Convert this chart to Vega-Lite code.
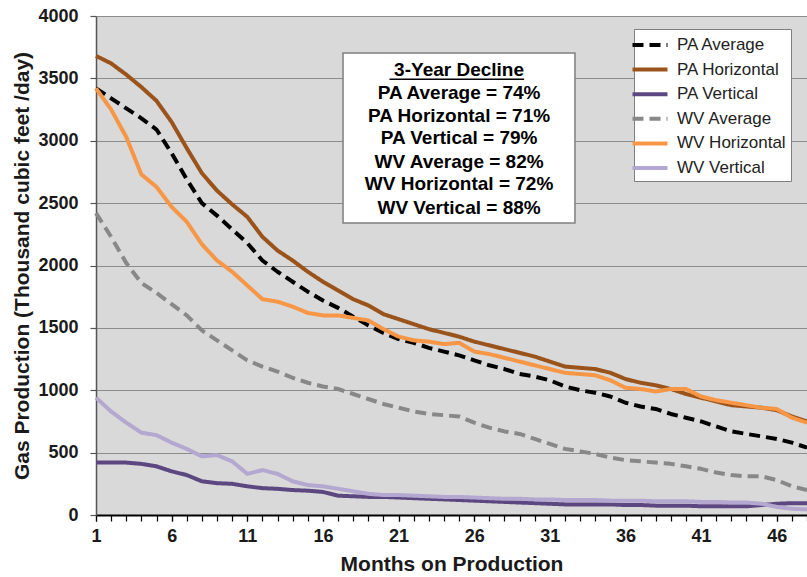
{
  "$schema": "https://vega.github.io/schema/vega-lite/v6.json",
  "width": 711,
  "height": 499,
  "autosize": {"type": "none"},
  "padding": {"left": 96, "top": 16, "right": 0, "bottom": 62},
  "background": "white",
  "config": {
    "font": "Liberation Sans",
    "view": {"fill": "#d9d9d9", "stroke": null}
  },
  "resolve": {"axis": {"x": "independent"}},
  "datasets": {
    "series": [
      {"m":1,"s":"PA Average","v":3420},{"m":2,"s":"PA Average","v":3340},{"m":3,"s":"PA Average","v":3260},{"m":4,"s":"PA Average","v":3180},{"m":5,"s":"PA Average","v":3090},{"m":6,"s":"PA Average","v":2900},{"m":7,"s":"PA Average","v":2690},{"m":8,"s":"PA Average","v":2500},{"m":9,"s":"PA Average","v":2400},{"m":10,"s":"PA Average","v":2290},{"m":11,"s":"PA Average","v":2180},{"m":12,"s":"PA Average","v":2040},{"m":13,"s":"PA Average","v":1950},{"m":14,"s":"PA Average","v":1870},{"m":15,"s":"PA Average","v":1790},{"m":16,"s":"PA Average","v":1720},{"m":17,"s":"PA Average","v":1660},{"m":18,"s":"PA Average","v":1590},{"m":19,"s":"PA Average","v":1520},{"m":20,"s":"PA Average","v":1460},{"m":21,"s":"PA Average","v":1410},{"m":22,"s":"PA Average","v":1380},{"m":23,"s":"PA Average","v":1340},{"m":24,"s":"PA Average","v":1310},{"m":25,"s":"PA Average","v":1280},{"m":26,"s":"PA Average","v":1240},{"m":27,"s":"PA Average","v":1200},{"m":28,"s":"PA Average","v":1170},{"m":29,"s":"PA Average","v":1130},{"m":30,"s":"PA Average","v":1110},{"m":31,"s":"PA Average","v":1080},{"m":32,"s":"PA Average","v":1030},{"m":33,"s":"PA Average","v":1000},{"m":34,"s":"PA Average","v":980},{"m":35,"s":"PA Average","v":950},{"m":36,"s":"PA Average","v":900},{"m":37,"s":"PA Average","v":870},{"m":38,"s":"PA Average","v":850},{"m":39,"s":"PA Average","v":810},{"m":40,"s":"PA Average","v":780},{"m":41,"s":"PA Average","v":750},{"m":42,"s":"PA Average","v":710},{"m":43,"s":"PA Average","v":670},{"m":44,"s":"PA Average","v":650},{"m":45,"s":"PA Average","v":630},{"m":46,"s":"PA Average","v":610},{"m":47,"s":"PA Average","v":580},{"m":48,"s":"PA Average","v":540},
      {"m":1,"s":"PA Horizontal","v":3680},{"m":2,"s":"PA Horizontal","v":3620},{"m":3,"s":"PA Horizontal","v":3530},{"m":4,"s":"PA Horizontal","v":3430},{"m":5,"s":"PA Horizontal","v":3320},{"m":6,"s":"PA Horizontal","v":3150},{"m":7,"s":"PA Horizontal","v":2940},{"m":8,"s":"PA Horizontal","v":2740},{"m":9,"s":"PA Horizontal","v":2600},{"m":10,"s":"PA Horizontal","v":2490},{"m":11,"s":"PA Horizontal","v":2390},{"m":12,"s":"PA Horizontal","v":2230},{"m":13,"s":"PA Horizontal","v":2120},{"m":14,"s":"PA Horizontal","v":2040},{"m":15,"s":"PA Horizontal","v":1950},{"m":16,"s":"PA Horizontal","v":1870},{"m":17,"s":"PA Horizontal","v":1800},{"m":18,"s":"PA Horizontal","v":1730},{"m":19,"s":"PA Horizontal","v":1680},{"m":20,"s":"PA Horizontal","v":1610},{"m":21,"s":"PA Horizontal","v":1570},{"m":22,"s":"PA Horizontal","v":1530},{"m":23,"s":"PA Horizontal","v":1490},{"m":24,"s":"PA Horizontal","v":1460},{"m":25,"s":"PA Horizontal","v":1430},{"m":26,"s":"PA Horizontal","v":1390},{"m":27,"s":"PA Horizontal","v":1360},{"m":28,"s":"PA Horizontal","v":1330},{"m":29,"s":"PA Horizontal","v":1300},{"m":30,"s":"PA Horizontal","v":1270},{"m":31,"s":"PA Horizontal","v":1230},{"m":32,"s":"PA Horizontal","v":1190},{"m":33,"s":"PA Horizontal","v":1180},{"m":34,"s":"PA Horizontal","v":1170},{"m":35,"s":"PA Horizontal","v":1140},{"m":36,"s":"PA Horizontal","v":1090},{"m":37,"s":"PA Horizontal","v":1060},{"m":38,"s":"PA Horizontal","v":1040},{"m":39,"s":"PA Horizontal","v":1010},{"m":40,"s":"PA Horizontal","v":970},{"m":41,"s":"PA Horizontal","v":940},{"m":42,"s":"PA Horizontal","v":910},{"m":43,"s":"PA Horizontal","v":880},{"m":44,"s":"PA Horizontal","v":870},{"m":45,"s":"PA Horizontal","v":860},{"m":46,"s":"PA Horizontal","v":840},{"m":47,"s":"PA Horizontal","v":790},{"m":48,"s":"PA Horizontal","v":750},
      {"m":1,"s":"PA Vertical","v":420},{"m":2,"s":"PA Vertical","v":420},{"m":3,"s":"PA Vertical","v":420},{"m":4,"s":"PA Vertical","v":410},{"m":5,"s":"PA Vertical","v":390},{"m":6,"s":"PA Vertical","v":350},{"m":7,"s":"PA Vertical","v":320},{"m":8,"s":"PA Vertical","v":270},{"m":9,"s":"PA Vertical","v":255},{"m":10,"s":"PA Vertical","v":250},{"m":11,"s":"PA Vertical","v":230},{"m":12,"s":"PA Vertical","v":215},{"m":13,"s":"PA Vertical","v":210},{"m":14,"s":"PA Vertical","v":200},{"m":15,"s":"PA Vertical","v":195},{"m":16,"s":"PA Vertical","v":185},{"m":17,"s":"PA Vertical","v":155},{"m":18,"s":"PA Vertical","v":150},{"m":19,"s":"PA Vertical","v":145},{"m":20,"s":"PA Vertical","v":145},{"m":21,"s":"PA Vertical","v":140},{"m":22,"s":"PA Vertical","v":135},{"m":23,"s":"PA Vertical","v":130},{"m":24,"s":"PA Vertical","v":125},{"m":25,"s":"PA Vertical","v":120},{"m":26,"s":"PA Vertical","v":115},{"m":27,"s":"PA Vertical","v":110},{"m":28,"s":"PA Vertical","v":105},{"m":29,"s":"PA Vertical","v":100},{"m":30,"s":"PA Vertical","v":95},{"m":31,"s":"PA Vertical","v":90},{"m":32,"s":"PA Vertical","v":85},{"m":33,"s":"PA Vertical","v":85},{"m":34,"s":"PA Vertical","v":85},{"m":35,"s":"PA Vertical","v":85},{"m":36,"s":"PA Vertical","v":80},{"m":37,"s":"PA Vertical","v":80},{"m":38,"s":"PA Vertical","v":75},{"m":39,"s":"PA Vertical","v":75},{"m":40,"s":"PA Vertical","v":75},{"m":41,"s":"PA Vertical","v":70},{"m":42,"s":"PA Vertical","v":70},{"m":43,"s":"PA Vertical","v":70},{"m":44,"s":"PA Vertical","v":70},{"m":45,"s":"PA Vertical","v":80},{"m":46,"s":"PA Vertical","v":90},{"m":47,"s":"PA Vertical","v":95},{"m":48,"s":"PA Vertical","v":95},
      {"m":1,"s":"WV Average","v":2420},{"m":2,"s":"WV Average","v":2230},{"m":3,"s":"WV Average","v":2020},{"m":4,"s":"WV Average","v":1860},{"m":5,"s":"WV Average","v":1780},{"m":6,"s":"WV Average","v":1690},{"m":7,"s":"WV Average","v":1600},{"m":8,"s":"WV Average","v":1480},{"m":9,"s":"WV Average","v":1400},{"m":10,"s":"WV Average","v":1320},{"m":11,"s":"WV Average","v":1240},{"m":12,"s":"WV Average","v":1190},{"m":13,"s":"WV Average","v":1150},{"m":14,"s":"WV Average","v":1100},{"m":15,"s":"WV Average","v":1060},{"m":16,"s":"WV Average","v":1030},{"m":17,"s":"WV Average","v":1010},{"m":18,"s":"WV Average","v":970},{"m":19,"s":"WV Average","v":930},{"m":20,"s":"WV Average","v":890},{"m":21,"s":"WV Average","v":860},{"m":22,"s":"WV Average","v":830},{"m":23,"s":"WV Average","v":810},{"m":24,"s":"WV Average","v":800},{"m":25,"s":"WV Average","v":790},{"m":26,"s":"WV Average","v":740},{"m":27,"s":"WV Average","v":700},{"m":28,"s":"WV Average","v":670},{"m":29,"s":"WV Average","v":650},{"m":30,"s":"WV Average","v":610},{"m":31,"s":"WV Average","v":570},{"m":32,"s":"WV Average","v":530},{"m":33,"s":"WV Average","v":510},{"m":34,"s":"WV Average","v":490},{"m":35,"s":"WV Average","v":460},{"m":36,"s":"WV Average","v":440},{"m":37,"s":"WV Average","v":430},{"m":38,"s":"WV Average","v":420},{"m":39,"s":"WV Average","v":410},{"m":40,"s":"WV Average","v":390},{"m":41,"s":"WV Average","v":370},{"m":42,"s":"WV Average","v":340},{"m":43,"s":"WV Average","v":320},{"m":44,"s":"WV Average","v":310},{"m":45,"s":"WV Average","v":310},{"m":46,"s":"WV Average","v":280},{"m":47,"s":"WV Average","v":230},{"m":48,"s":"WV Average","v":200},
      {"m":1,"s":"WV Horizontal","v":3420},{"m":2,"s":"WV Horizontal","v":3250},{"m":3,"s":"WV Horizontal","v":3030},{"m":4,"s":"WV Horizontal","v":2730},{"m":5,"s":"WV Horizontal","v":2630},{"m":6,"s":"WV Horizontal","v":2470},{"m":7,"s":"WV Horizontal","v":2350},{"m":8,"s":"WV Horizontal","v":2170},{"m":9,"s":"WV Horizontal","v":2040},{"m":10,"s":"WV Horizontal","v":1950},{"m":11,"s":"WV Horizontal","v":1840},{"m":12,"s":"WV Horizontal","v":1730},{"m":13,"s":"WV Horizontal","v":1710},{"m":14,"s":"WV Horizontal","v":1670},{"m":15,"s":"WV Horizontal","v":1620},{"m":16,"s":"WV Horizontal","v":1600},{"m":17,"s":"WV Horizontal","v":1600},{"m":18,"s":"WV Horizontal","v":1580},{"m":19,"s":"WV Horizontal","v":1560},{"m":20,"s":"WV Horizontal","v":1490},{"m":21,"s":"WV Horizontal","v":1430},{"m":22,"s":"WV Horizontal","v":1400},{"m":23,"s":"WV Horizontal","v":1390},{"m":24,"s":"WV Horizontal","v":1370},{"m":25,"s":"WV Horizontal","v":1380},{"m":26,"s":"WV Horizontal","v":1310},{"m":27,"s":"WV Horizontal","v":1290},{"m":28,"s":"WV Horizontal","v":1260},{"m":29,"s":"WV Horizontal","v":1230},{"m":30,"s":"WV Horizontal","v":1200},{"m":31,"s":"WV Horizontal","v":1170},{"m":32,"s":"WV Horizontal","v":1140},{"m":33,"s":"WV Horizontal","v":1130},{"m":34,"s":"WV Horizontal","v":1120},{"m":35,"s":"WV Horizontal","v":1080},{"m":36,"s":"WV Horizontal","v":1020},{"m":37,"s":"WV Horizontal","v":1010},{"m":38,"s":"WV Horizontal","v":990},{"m":39,"s":"WV Horizontal","v":1010},{"m":40,"s":"WV Horizontal","v":1010},{"m":41,"s":"WV Horizontal","v":950},{"m":42,"s":"WV Horizontal","v":920},{"m":43,"s":"WV Horizontal","v":900},{"m":44,"s":"WV Horizontal","v":880},{"m":45,"s":"WV Horizontal","v":860},{"m":46,"s":"WV Horizontal","v":850},{"m":47,"s":"WV Horizontal","v":780},{"m":48,"s":"WV Horizontal","v":740},
      {"m":1,"s":"WV Vertical","v":940},{"m":2,"s":"WV Vertical","v":830},{"m":3,"s":"WV Vertical","v":740},{"m":4,"s":"WV Vertical","v":660},{"m":5,"s":"WV Vertical","v":640},{"m":6,"s":"WV Vertical","v":580},{"m":7,"s":"WV Vertical","v":530},{"m":8,"s":"WV Vertical","v":470},{"m":9,"s":"WV Vertical","v":480},{"m":10,"s":"WV Vertical","v":430},{"m":11,"s":"WV Vertical","v":330},{"m":12,"s":"WV Vertical","v":360},{"m":13,"s":"WV Vertical","v":330},{"m":14,"s":"WV Vertical","v":270},{"m":15,"s":"WV Vertical","v":240},{"m":16,"s":"WV Vertical","v":230},{"m":17,"s":"WV Vertical","v":210},{"m":18,"s":"WV Vertical","v":190},{"m":19,"s":"WV Vertical","v":170},{"m":20,"s":"WV Vertical","v":160},{"m":21,"s":"WV Vertical","v":160},{"m":22,"s":"WV Vertical","v":155},{"m":23,"s":"WV Vertical","v":150},{"m":24,"s":"WV Vertical","v":145},{"m":25,"s":"WV Vertical","v":145},{"m":26,"s":"WV Vertical","v":140},{"m":27,"s":"WV Vertical","v":135},{"m":28,"s":"WV Vertical","v":130},{"m":29,"s":"WV Vertical","v":130},{"m":30,"s":"WV Vertical","v":125},{"m":31,"s":"WV Vertical","v":125},{"m":32,"s":"WV Vertical","v":120},{"m":33,"s":"WV Vertical","v":120},{"m":34,"s":"WV Vertical","v":120},{"m":35,"s":"WV Vertical","v":115},{"m":36,"s":"WV Vertical","v":115},{"m":37,"s":"WV Vertical","v":115},{"m":38,"s":"WV Vertical","v":110},{"m":39,"s":"WV Vertical","v":110},{"m":40,"s":"WV Vertical","v":110},{"m":41,"s":"WV Vertical","v":105},{"m":42,"s":"WV Vertical","v":105},{"m":43,"s":"WV Vertical","v":100},{"m":44,"s":"WV Vertical","v":100},{"m":45,"s":"WV Vertical","v":90},{"m":46,"s":"WV Vertical","v":65},{"m":47,"s":"WV Vertical","v":50},{"m":48,"s":"WV Vertical","v":45}
    ],
    "box": [{"x1": 17.33, "x2": 32.66, "y1": 3703, "y2": 2341}],
    "underline": [{"x1": 20.4, "x2": 29.3, "y": 3492}],
    "notes": [
      {"x": 25.0, "y": 3567, "t": "3-Year Decline"},
      {"x": 25.0, "y": 3383, "t": "PA Average = 74%"},
      {"x": 25.0, "y": 3198, "t": "PA Horizontal = 71%"},
      {"x": 25.0, "y": 3022, "t": "PA Vertical = 79%"},
      {"x": 25.0, "y": 2830, "t": "WV Average = 82%"},
      {"x": 25.0, "y": 2653, "t": "WV Horizontal = 72%"},
      {"x": 25.0, "y": 2461, "t": "WV Vertical = 88%"}
    ]
  },
  "layer": [
    {
      "data": {"name": "box"},
      "mark": {"type": "rect", "fill": "#ffffff", "stroke": "#7f7f7f", "strokeWidth": 1.5},
      "encoding": {
        "x": {
          "field": "x1", "type": "quantitative",
          "axis": {
            "orient": "bottom",
            "title": null,
            "values": [1,2,3,4,5,6,7,8,9,10,11,12,13,14,15,16,17,18,19,20,21,22,23,24,25,26,27,28,29,30,31,32,33,34,35,36,37,38,39,40,41,42,43,44,45,46,47,48],
            "labels": false, "domain": false, "grid": false,
            "tickSize": 6, "tickColor": "#000000", "tickWidth": 1.2
          }
        },
        "x2": {"field": "x2"},
        "y": {"field": "y1", "type": "quantitative"},
        "y2": {"field": "y2"}
      }
    },
    {
      "data": {"name": "underline"},
      "mark": {"type": "rule", "color": "#000000", "strokeWidth": 1.5},
      "encoding": {
        "x": {"field": "x1", "type": "quantitative", "axis": null},
        "x2": {"field": "x2"},
        "y": {"field": "y", "type": "quantitative"}
      }
    },
    {
      "data": {"name": "notes"},
      "mark": {"type": "text", "font": "Liberation Sans", "fontWeight": "bold", "fontSize": 19, "align": "center", "baseline": "middle", "color": "#000000"},
      "encoding": {
        "x": {"field": "x", "type": "quantitative", "axis": null},
        "y": {"field": "y", "type": "quantitative"},
        "text": {"field": "t"}
      }
    },
    {
      "data": {"name": "series"},
      "mark": {"type": "line", "strokeWidth": 4, "strokeCap": "butt", "strokeJoin": "round"},
      "encoding": {
        "x": {
          "field": "m", "type": "quantitative",
          "scale": {"domain": [1, 48], "nice": false, "zero": false},
          "axis": {
            "orient": "bottom",
            "title": "Months on Production",
            "values": [1,6,11,16,21,26,31,36,41,46],
            "format": "d",
            "labelFont": "Liberation Sans", "labelFontWeight": "bold", "labelFontSize": 18, "labelColor": "#1a1a1a",
            "labelPadding": 6, "labelFlush": false, "labelOverlap": false,
            "tickSize": 6, "tickColor": "#000000", "tickWidth": 1.2,
            "domainColor": "#000000", "domainWidth": 2,
            "grid": false,
            "titleFont": "Liberation Sans", "titleFontWeight": "bold", "titleFontSize": 21, "titleColor": "#1a1a1a",
            "titlePadding": 8
          }
        },
        "y": {
          "field": "v", "type": "quantitative",
          "scale": {"domain": [0, 4000], "nice": false},
          "axis": {
            "title": "Gas Production (Thousand cubic feet /day)",
            "values": [0,500,1000,1500,2000,2500,3000,3500,4000],
            "format": "d",
            "labelFont": "Liberation Sans", "labelFontWeight": "bold", "labelFontSize": 18, "labelColor": "#1a1a1a",
            "labelPadding": 12,
            "tickSize": 6, "tickColor": "#555555", "tickWidth": 1.2,
            "domainColor": "#555555", "domainWidth": 1.5,
            "grid": true, "gridColor": "#8c8c8c", "gridWidth": 1,
            "titleFont": "Liberation Sans", "titleFontWeight": "bold", "titleFontSize": 21, "titleColor": "#1a1a1a",
            "titlePadding": 5
          }
        },
        "color": {
          "field": "s", "type": "nominal",
          "scale": {
            "domain": ["PA Average","PA Horizontal","PA Vertical","WV Average","WV Horizontal","WV Vertical"],
            "range": ["#000000","#9b531c","#5c4780","#888888","#f79646","#b4a7d0"]
          },
          "legend": {
            "title": null,
            "orient": "none", "legendX": 538, "legendY": 13,
            "fillColor": "#ffffff", "strokeColor": "#7f7f7f",
            "padding": 5,
            "labelFont": "Liberation Sans", "labelFontSize": 17, "labelColor": "#222222",
            "labelOffset": 16,
            "symbolType": "M-2,0H2", "symbolSize": 306, "symbolStrokeWidth": 4,
            "rowPadding": 5.6
          }
        },
        "strokeDash": {
          "field": "s", "type": "nominal",
          "scale": {
            "domain": ["PA Average","PA Horizontal","PA Vertical","WV Average","WV Horizontal","WV Vertical"],
            "range": [[11,6],[1,0],[1,0],[11,6],[1,0],[1,0]]
          },
          "legend": {
            "title": null,
            "orient": "none", "legendX": 538, "legendY": 13,
            "fillColor": "#ffffff", "strokeColor": "#7f7f7f",
            "padding": 5,
            "labelFont": "Liberation Sans", "labelFontSize": 17, "labelColor": "#222222",
            "labelOffset": 16,
            "symbolType": "M-2,0H2", "symbolSize": 306, "symbolStrokeWidth": 4,
            "rowPadding": 5.6
          }
        }
      }
    }
  ]
}
